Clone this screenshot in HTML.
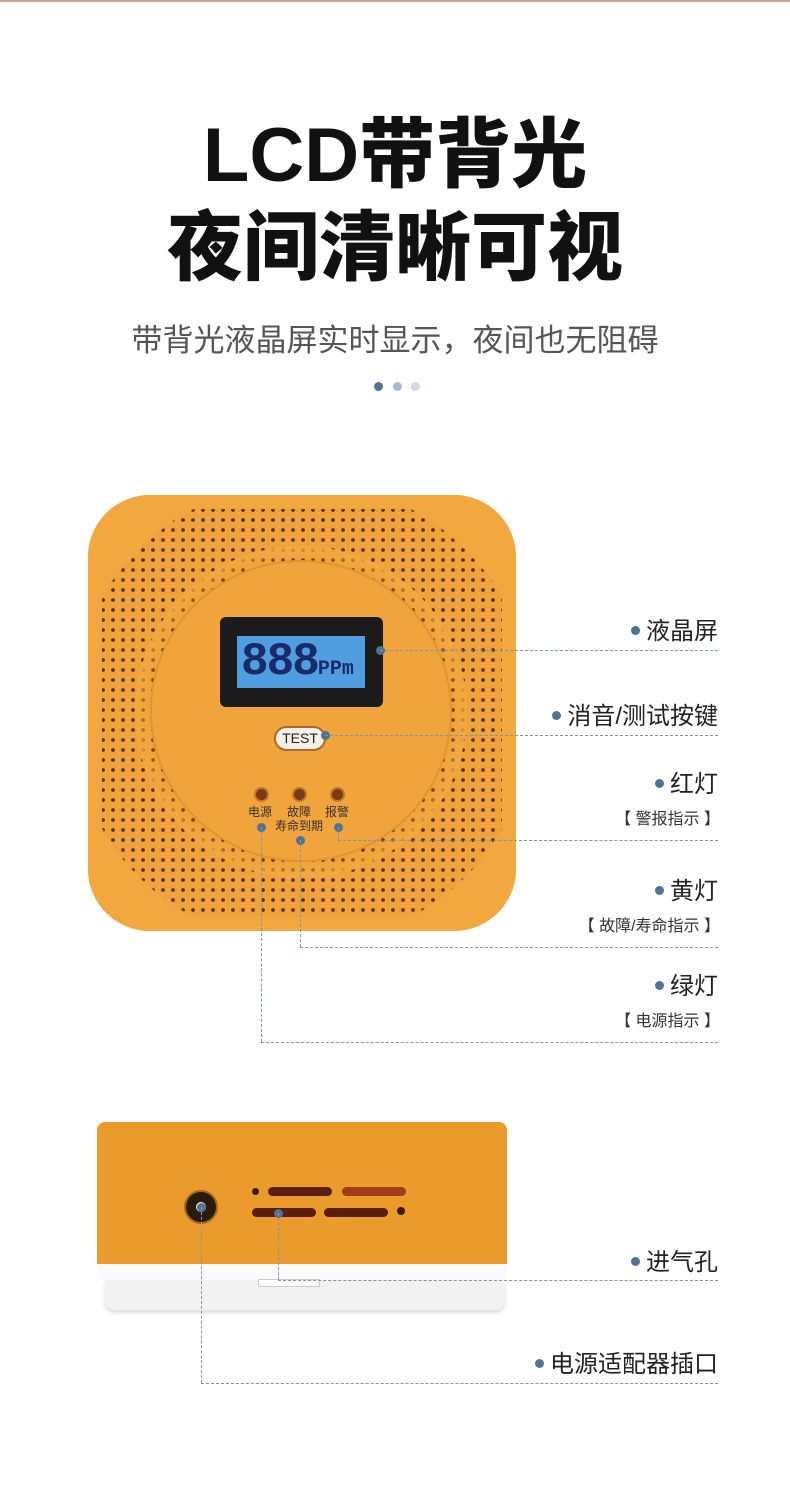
<!DOCTYPE html>
<html><head><meta charset="utf-8"><style>
*{margin:0;padding:0;box-sizing:border-box}
body{width:790px;height:1493px;background:#fff;position:relative;overflow:hidden;font-family:"Liberation Sans","Noto Sans CJK SC",sans-serif}
.a{position:absolute}
.t{font-weight:900;color:#111;text-align:center;width:790px;left:0;font-size:76px;line-height:1}
.lab{position:absolute;right:72px;font-size:24px;color:#222;white-space:nowrap}
.lab i{display:inline-block;width:9px;height:9px;border-radius:50%;background:#4d7399;margin-right:6px;vertical-align:middle;position:relative;top:-2px}
.sub{position:absolute;right:70px;font-size:16px;color:#333;white-space:nowrap}
.h{position:absolute;border-top:1px dashed #7d97b0;height:0}
.v{position:absolute;border-left:1px dashed #7d97b0;width:0}
.d{position:absolute;width:9px;height:9px;border-radius:50%;background:#4d7399}
</style></head><body>
<div class="a" style="left:0;top:0;width:790px;height:2px;background:#c9a89a"></div>
<div class="a t" style="top:118px">LCD带背光</div>
<div class="a t" style="top:211px">夜间清晰可视</div>
<div class="a" style="top:315px;left:0;width:790px;text-align:center;font-size:31px;color:#555">带背光液晶屏实时显示，夜间也无阻碍</div>
<div class="a" style="left:374px;top:382px;width:9px;height:9px;border-radius:50%;background:#4d7399"></div>
<div class="a" style="left:393px;top:382px;width:9px;height:9px;border-radius:50%;background:#a9bccd"></div>
<div class="a" style="left:411px;top:382px;width:9px;height:9px;border-radius:50%;background:#cfdae4"></div>

<!-- front device -->
<div class="a" style="left:88px;top:495px;width:428px;height:436px;border-radius:62px;background:#f0a33a;background-image:radial-gradient(circle,#5a3212 1.6px,transparent 2.2px);background-size:10px 10px;box-shadow:inset 0 0 0 14px #f2a83e"></div>
<div class="a" style="left:88px;top:495px;width:428px;height:436px;border-radius:62px;background:radial-gradient(circle at 50% 50%,transparent 0,transparent 230px,#f2a83e 232px);"></div>
<div class="a" style="left:135px;top:545px;width:332px;height:334px;border-radius:50%;background:radial-gradient(circle,#f2a83e 0,#f2a83e 148px,transparent 150px),radial-gradient(circle,transparent 0,transparent 150px,#f3a940 166px,transparent 166px)"></div>
<div class="a" style="left:152px;top:562px;width:298px;height:298px;border-radius:50%;background:#f1a43b;box-shadow:0 0 0 2px #e29430"></div>
<div class="a" style="left:220px;top:617px;width:163px;height:90px;border-radius:6px;background:#1b1b1b"></div>
<div class="a" style="left:237px;top:636px;width:128px;height:52px;background:#4e9ee0;color:#1a2a6a;font-family:'Liberation Mono',monospace;font-size:46px;line-height:52px;padding-left:4px;font-weight:bold;letter-spacing:-2px">888<span style="font-size:20px;letter-spacing:0">PPm</span></div>
<div class="a" style="left:274px;top:726px;width:52px;height:25px;border-radius:13px;background:#f4f0e8;border:2px solid #a66a2a;font-size:14px;text-align:center;line-height:21px;color:#222">TEST</div>
<div class="a" style="left:256px;top:789px;width:11px;height:11px;border-radius:50%;background:#7a3a1a;box-shadow:0 0 0 2px #c07828"></div>
<div class="a" style="left:294px;top:789px;width:11px;height:11px;border-radius:50%;background:#7a3a1a;box-shadow:0 0 0 2px #c07828"></div>
<div class="a" style="left:332px;top:789px;width:11px;height:11px;border-radius:50%;background:#7a3a1a;box-shadow:0 0 0 2px #c07828"></div>
<div class="a" style="left:248px;top:803px;font-size:12px;color:#333">电源</div>
<div class="a" style="left:287px;top:803px;font-size:12px;color:#333">故障</div>
<div class="a" style="left:325px;top:803px;font-size:12px;color:#333">报警</div>
<div class="a" style="left:275px;top:817px;font-size:12px;color:#333">寿命到期</div>

<!-- callouts front -->
<div class="d" style="left:376px;top:646px"></div><div class="h" style="left:380px;top:650px;width:338px"></div>
<div class="lab" style="top:611px"><i></i>液晶屏</div>
<div class="d" style="left:321px;top:731px"></div><div class="h" style="left:325px;top:735px;width:393px"></div>
<div class="lab" style="top:696px"><i></i>消音/测试按键</div>
<div class="d" style="left:334px;top:823px"></div><div class="v" style="left:338px;top:827px;height:13px"></div><div class="h" style="left:338px;top:840px;width:380px"></div>
<div class="lab" style="top:764px"><i></i>红灯</div><div class="sub" style="top:805px">【 警报指示 】</div>
<div class="d" style="left:296px;top:836px"></div><div class="v" style="left:300px;top:840px;height:107px"></div><div class="h" style="left:300px;top:947px;width:418px"></div>
<div class="lab" style="top:871px"><i></i>黄灯</div><div class="sub" style="top:912px">【 故障/寿命指示 】</div>
<div class="d" style="left:257px;top:823px"></div><div class="v" style="left:261px;top:827px;height:215px"></div><div class="h" style="left:261px;top:1042px;width:457px"></div>
<div class="lab" style="top:966px"><i></i>绿灯</div><div class="sub" style="top:1007px">【 电源指示 】</div>

<!-- bottom device -->
<div class="a" style="left:105px;top:1280px;width:400px;height:30px;background:#f2f2f2;border-radius:0 0 10px 10px;box-shadow:0 3px 4px #ddd"></div>
<div class="a" style="left:97px;top:1122px;width:410px;height:146px;background:#eb9a2c;border-radius:8px 8px 4px 4px"></div>
<div class="a" style="left:97px;top:1264px;width:410px;height:16px;background:#fafafa"></div>
<div class="a" style="left:186px;top:1192px;width:30px;height:30px;border-radius:50%;background:#2a1a0a;box-shadow:0 0 0 2px #a8661c"></div>
<div class="a" style="left:196px;top:1202px;width:10px;height:10px;border-radius:50%;background:#eee"></div>
<div class="a" style="left:252px;top:1188px;width:7px;height:7px;border-radius:50%;background:#3a1a0a"></div>
<div class="a" style="left:268px;top:1187px;width:64px;height:9px;border-radius:5px;background:#5a1e0a"></div>
<div class="a" style="left:342px;top:1187px;width:64px;height:9px;border-radius:5px;background:#a03c1a"></div>
<div class="a" style="left:252px;top:1208px;width:64px;height:9px;border-radius:5px;background:#5a1e0a"></div>
<div class="a" style="left:324px;top:1208px;width:64px;height:9px;border-radius:5px;background:#5a1e0a"></div>
<div class="a" style="left:397px;top:1207px;width:8px;height:8px;border-radius:50%;background:#3a1a0a"></div>
<div class="a" style="left:258px;top:1279px;width:62px;height:8px;border:1px solid #ccc;background:#fff"></div>

<div class="d" style="left:274px;top:1209px"></div><div class="v" style="left:278px;top:1213px;height:67px"></div><div class="h" style="left:278px;top:1280px;width:440px"></div>
<div class="lab" style="top:1242px"><i></i>进气孔</div>
<div class="d" style="left:197px;top:1203px"></div><div class="v" style="left:201px;top:1207px;height:176px"></div><div class="h" style="left:201px;top:1383px;width:517px"></div>
<div class="lab" style="top:1344px"><i></i>电源适配器插口</div>
</body></html>
